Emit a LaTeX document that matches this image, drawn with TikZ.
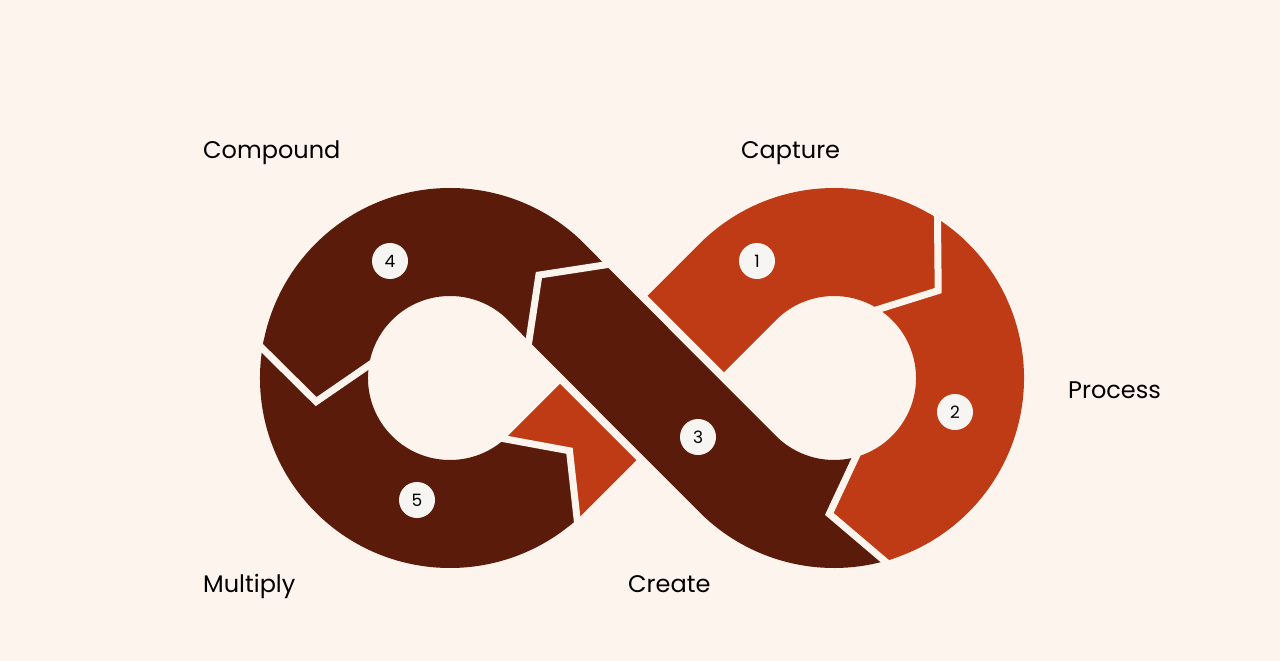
\documentclass[tikz,border=0pt]{standalone}
\usepackage{fontspec}
\setmainfont{Poppins}
\definecolor{bg}{HTML}{FDF4EE}
\definecolor{rust}{HTML}{BF3B16}
\definecolor{maroon}{HTML}{5B1B0B}
\definecolor{badge}{HTML}{F7F5F2}
\begin{document}
\begin{tikzpicture}[x=1pt,y=-1pt,
  band/.style={line width=108pt,line cap=butt},
  gapline/.style={draw=bg,line width=7pt,line join=miter,shorten <=-8pt,shorten >=-8pt},
  badgenode/.style={circle,fill=badge,minimum size=36pt,inner sep=0pt,font=\fontsize{17}{17}\selectfont},
  lab/.style={anchor=base west,inner sep=0pt,font=\fontsize{24}{24}\selectfont}]
\fill[bg] (0,0) rectangle (1280,661);
\useasboundingbox (0,0) rectangle (1280,661);
% centres
\coordinate (Lc) at (450,378);
\coordinate (Rc) at (834,378);
\coordinate (C) at (642,378);
\coordinate (T1) at (737.83,281.83);
\coordinate (T2) at (737.83,474.17);
\coordinate (T3) at (546.17,281.83);
\coordinate (T4) at (546.17,474.17);
\coordinate (E34) at (567.05,303.05);
% segment 1 (rust)
\draw[band,rust] ([shift={(Lc)}]48:136) arc[start angle=48,end angle=45,radius=136] -- (T1) arc[start angle=-135,end angle=-57,radius=136];
% segment 2 (rust)
\draw[band,rust] ([shift={(Rc)}]-57:136) arc[start angle=-57,end angle=74.5,radius=136];
% segment 4 (maroon)
\draw[band,maroon] (E34) -- (T3) arc[start angle=-45,end angle=-171,radius=136];
% segment 5 (maroon)
\draw[band,maroon] ([shift={(Lc)}]-171:136) arc[start angle=-171,end angle=-312,radius=136];
% segment 3 gap and band
\draw[line width=124pt,bg] (705.6,441.6) -- (578.4,314.4);
\draw[band,maroon] ([shift={(Rc)}]74.5:136) arc[start angle=74.5,end angle=135,radius=136] -- (E34);
% joint points (back-outer, outer, tip, inner, back-inner)
\coordinate (B12) at (929.0,213.5); \coordinate (O12) at (937.5,218.6); \coordinate (T12) at (938.2,290.6); \coordinate (I12) at (878.7,309.2); \coordinate (C12) at (875.0,307.0);
\coordinate (B23) at (894.3,558.2); \coordinate (O23) at (884.8,561.1); \coordinate (T23) at (829.3,513.9); \coordinate (I23) at (855.9,457.0); \coordinate (C23) at (860.0,455.8);
\coordinate (B34) at (608.0,267.7); \coordinate (O34) at (605.2,264.9); \coordinate (T34) at (538.9,275.1); \coordinate (I34) at (528.9,341.2); \coordinate (C34) at (531.7,344.0);
\coordinate (B45) at (264.2,338.5); \coordinate (O45) at (262.3,348.3); \coordinate (T45) at (316.1,401.6); \coordinate (I45) at (369.0,365.2); \coordinate (C45) at (369.8,361.0);
\coordinate (B51) at (569.6,525.7); \coordinate (O51) at (577.1,519.2); \coordinate (T51) at (569.5,450.8); \coordinate (I51) at (504.9,438.9); \coordinate (C51) at (501.6,441.7);
% arrow tips
\fill[rust] (B12) -- (O12) -- (T12) -- (I12) -- (C12) -- cycle;
\fill[rust] (B23) -- (O23) -- (T23) -- (I23) -- (C23) -- cycle;
\fill[maroon] (B34) -- (O34) -- (T34) -- (I34) -- (C34) -- cycle;
\fill[maroon] (B45) -- (O45) -- (T45) -- (I45) -- (C45) -- cycle;
\fill[maroon] (B51) -- (O51) -- (T51) -- (I51) -- (C51) -- cycle;
% gaps
\draw[gapline] (O12) -- (T12) -- (I12);
\draw[gapline] (O23) -- (T23) -- (I23);
\draw[gapline] (O34) -- (T34) -- (I34);
\draw[gapline] (O45) -- (T45) -- (I45);
\draw[gapline] (O51) -- (T51) -- (I51);
% badges
\node[badgenode] (b1) at (757,261) {1};
\node[badgenode] (b2) at (955,412) {2};
\node[badgenode] (b3) at (698,437) {3};
\node[badgenode] (b4) at (390,261) {4};
\node[badgenode] (b5) at (417,500) {5};
% labels
\node[lab] (l4) at (203,158) {Compound};
\node[lab] (l1) at (741,158) {Capture};
\node[lab] (l2) at (1068,398) {Process};
\node[lab] (l5) at (203,592) {Multiply};
\node[lab] (l3) at (628,592) {Create};
\end{tikzpicture}
\end{document}
